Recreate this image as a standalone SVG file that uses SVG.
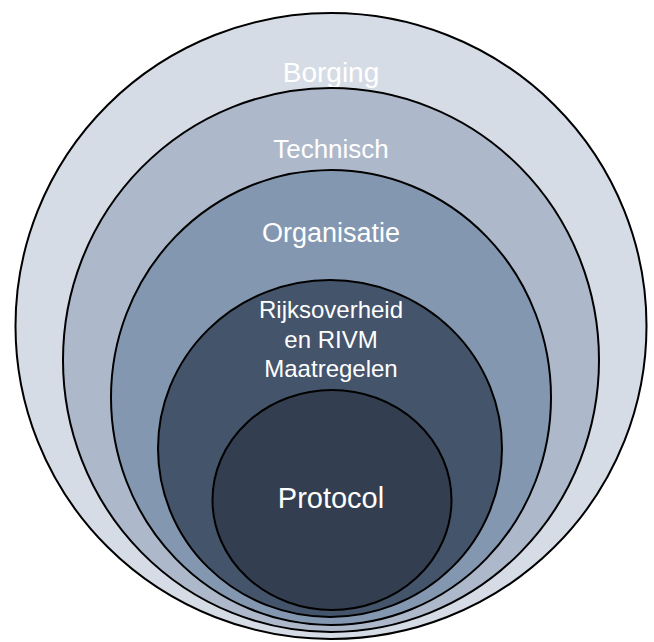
<svg xmlns="http://www.w3.org/2000/svg" width="654" height="642" viewBox="0 0 654 642">
<style>
.c{stroke:#000;stroke-width:2}
.t{fill:#fff;font-family:"Liberation Sans",Arial,sans-serif;text-anchor:middle}
</style>
<rect width="654" height="642" fill="#fff"/>
<g id="borging">
<ellipse class="c" cx="331" cy="326" rx="315.5" ry="313" fill="#D6DCE5"/>
<text class="t" x="331" y="82" font-size="28">Borging</text>
</g>
<g id="technisch">
<ellipse class="c" cx="331" cy="360" rx="268" ry="272" fill="#ADB9CA"/>
<text class="t" x="331" y="158" font-size="26">Technisch</text>
</g>
<g id="organisatie">
<ellipse class="c" cx="331" cy="397.5" rx="220" ry="227.5" fill="#8497B0"/>
<text class="t" x="331" y="242" font-size="27">Organisatie</text>
</g>
<g id="rijksoverheid">
<ellipse class="c" cx="330" cy="448.5" rx="172" ry="168.5" fill="#44546A"/>
<text class="t" font-size="24"><tspan x="331" y="318">Rijksoverheid</tspan><tspan x="331" y="348">en RIVM</tspan><tspan x="331" y="377">Maatregelen</tspan></text>
</g>
<g id="protocol">
<ellipse class="c" cx="332" cy="500" rx="119.5" ry="110" fill="#333F50"/>
<text class="t" x="331" y="508" font-size="29">Protocol</text>
</g>
<g id="connectors"/>
</svg>
